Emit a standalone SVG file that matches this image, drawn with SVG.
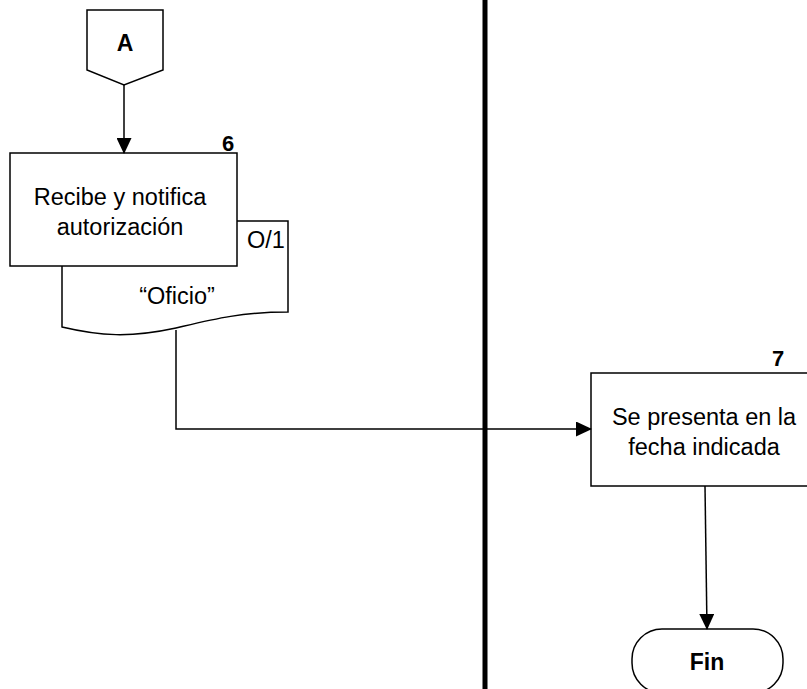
<svg xmlns="http://www.w3.org/2000/svg" width="807" height="689" viewBox="0 0 807 689">
<defs>
<style>
.s{fill:#fff;stroke:#000;stroke-width:1.5}
.t{font-family:"Liberation Sans",Arial,sans-serif;font-size:23.5px;fill:#000;text-anchor:middle}
.b{font-family:"Liberation Sans",Arial,sans-serif;font-size:23px;font-weight:bold;fill:#000;text-anchor:middle}
.n{font-family:"Liberation Sans",Arial,sans-serif;font-size:22px;font-weight:bold;fill:#000;text-anchor:middle}
.c{fill:none;stroke:#000;stroke-width:1.5}
</style>
<marker id="ah" markerWidth="16" markerHeight="15" refX="15" refY="7.5" orient="auto" markerUnits="userSpaceOnUse">
<path d="M0,0 L16,7.5 L0,15 Z" fill="#000"/>
</marker>
</defs>
<rect width="807" height="689" fill="#fff"/>
<line x1="485" y1="0" x2="485" y2="689" stroke="#000" stroke-width="5"/>
<g id="offpage-A">
<path class="s" d="M87,10 H163 V70 L124,85 L87,70 Z"/>
<text class="b" x="125" y="51">A</text>
</g>
<g id="doc-oficio">
<path class="s" d="M62,221 H288 V312 C240,312 210,320 176,328 C130,338 100,336 62,327 Z"/>
<text class="t" x="266" y="248">O/1</text>
<text class="t" x="177" y="304">“Oficio”</text>
</g>
<g id="step6">
<rect class="s" x="10" y="153" width="227" height="113"/>
<text class="t" x="120" y="205">Recibe y notifica</text>
<text class="t" x="120" y="235">autorización</text>
<text class="n" x="228" y="151">6</text>
</g>
<g id="step7">
<rect class="s" x="591" y="373" width="220" height="113"/>
<text class="t" x="704" y="425">Se presenta en la</text>
<text class="t" x="704" y="455">fecha indicada</text>
<text class="n" x="778" y="366">7</text>
</g>
<g id="fin">
<rect class="s" x="632" y="629" width="151" height="64" rx="30"/>
<text class="b" x="707" y="670">Fin</text>
</g>
<g id="connectors">
<line class="c" x1="124" y1="85" x2="124" y2="153" marker-end="url(#ah)"/>
<polyline class="c" points="176,330 176,429 591,429" marker-end="url(#ah)"/>
<line class="c" x1="705" y1="486" x2="707" y2="629" marker-end="url(#ah)"/>
</g>
</svg>
